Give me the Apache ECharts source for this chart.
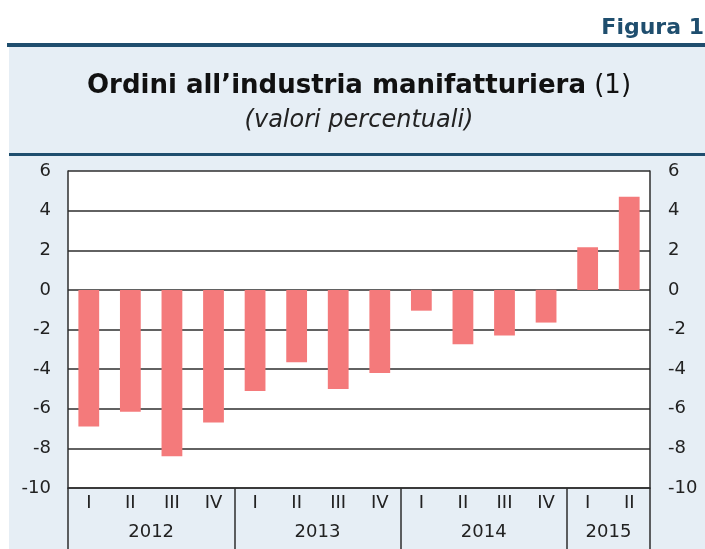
<!DOCTYPE html>
<html>
<head>
<meta charset="utf-8">
<script src="https://cdn.jsdelivr.net/npm/echarts@6/dist/echarts.min.js"></script>
<style>
  html, body { margin: 0; padding: 0; background: #fff; }
  #chart { width: 705px; height: 549px; }
</style>
</head>
<body>
<div id="chart"></div>
<script>
  // dati
  const quarters = ['I', 'II', 'III', 'IV', 'I', 'II', 'III', 'IV', 'I', 'II', 'III', 'IV', 'I', 'II'];
  const years = ['2012', '2013', '2014', '2015'];
  const quartersPerYear = [4, 4, 4, 2];
  const orders = [-6.9, -6.15, -8.4, -6.7, -5.1, -3.65, -5.0, -4.2, -1.05, -2.75, -2.3, -1.65, 2.15, 4.7];
  const yMin = -10, yMax = 6, yStep = 2;

  // centro di ogni anno e inizio dei gruppi (per i separatori)
  const yearCenters = {};
  const yearStarts = new Set();
  let pos = 0;
  quartersPerYear.forEach((n, i) => {
    yearStarts.add(pos);
    yearCenters[pos + n / 2] = years[i];
    pos += n;
  });

  const FONT = '"DejaVu Sans", "Liberation Sans", Arial, sans-serif';
  const DARK = '#1f4e6e';
  const LINE = '#2e2e2e';

  const chart = echarts.init(document.getElementById('chart'));
  chart.setOption({
    animation: false,
    textStyle: { fontFamily: FONT },
    graphic: [
      // pannello azzurro e filetti
      { type: 'rect', z: -1, shape: { x: 9, y: 45, width: 696, height: 504 }, style: { fill: '#e6eef5' } },
      { type: 'line', z: -1, shape: { x1: 7, y1: 45, x2: 705, y2: 45 }, style: { stroke: DARK, lineWidth: 4 } },
      { type: 'line', z: -1, shape: { x1: 9, y1: 154.5, x2: 705, y2: 154.5 }, style: { stroke: DARK, lineWidth: 3 } }
    ],
    title: [
      {
        text: 'Figura 1',
        right: 1, top: 17, padding: 0,
        textStyle: { fontSize: 22, fontWeight: 'bold', color: DARK, fontFamily: FONT }
      },
      {
        text: '{b|Ordini all’industria manifatturiera} (1)',
        left: 359, top: 73, padding: 0, textAlign: 'center',
        textStyle: {
          fontSize: 26, fontWeight: 'normal', color: '#111', fontFamily: FONT,
          rich: { b: { fontSize: 26, fontWeight: 'bold', color: '#111', fontFamily: FONT } }
        }
      },
      {
        text: '(valori percentuali)',
        left: 359, top: 109, padding: 0, textAlign: 'center',
        textStyle: { fontSize: 24, fontWeight: 'normal', fontStyle: 'italic', color: '#222', fontFamily: FONT }
      }
    ],
    grid: {
      left: 68, right: 55, top: 171, bottom: 61,
      show: true, backgroundColor: '#fff', borderWidth: 0
    },
    xAxis: [
      {
        type: 'category',
        data: quarters,
        axisLine: { onZero: false, lineStyle: { color: LINE, width: 1.5 } },
        axisTick: {
          show: true, length: 61,
          interval: (index) => yearStarts.has(index),
          lineStyle: { color: LINE, width: 1.5 }
        },
        axisLabel: { interval: 0, margin: 6, fontSize: 18, color: '#222' }
      },
      {
        type: 'value',
        position: 'bottom',
        min: 0, max: pos, interval: 1,
        axisLine: { show: false },
        axisTick: { show: false },
        splitLine: { show: false },
        axisLabel: {
          margin: 35, fontSize: 18, color: '#222',
          formatter: (v) => yearCenters[v] || ''
        }
      }
    ],
    yAxis: [
      {
        type: 'value',
        min: yMin, max: yMax, interval: yStep,
        axisLine: { show: true, lineStyle: { color: LINE, width: 1.5 } },
        axisTick: { show: false },
        splitLine: { lineStyle: { color: LINE, width: 1.5 } },
        axisLabel: { margin: 17, fontSize: 18, color: '#222' }
      },
      {
        type: 'value',
        position: 'right',
        min: yMin, max: yMax, interval: yStep,
        axisLine: { show: true, lineStyle: { color: LINE, width: 1.5 } },
        axisTick: { show: false },
        splitLine: { show: false },
        axisLabel: { margin: 18, fontSize: 18, color: '#222' }
      }
    ],
    series: [
      {
        type: 'bar',
        data: orders,
        barWidth: '50%',
        itemStyle: { color: '#f47a7b' }
      }
    ]
  });
</script>
</body>
</html>
